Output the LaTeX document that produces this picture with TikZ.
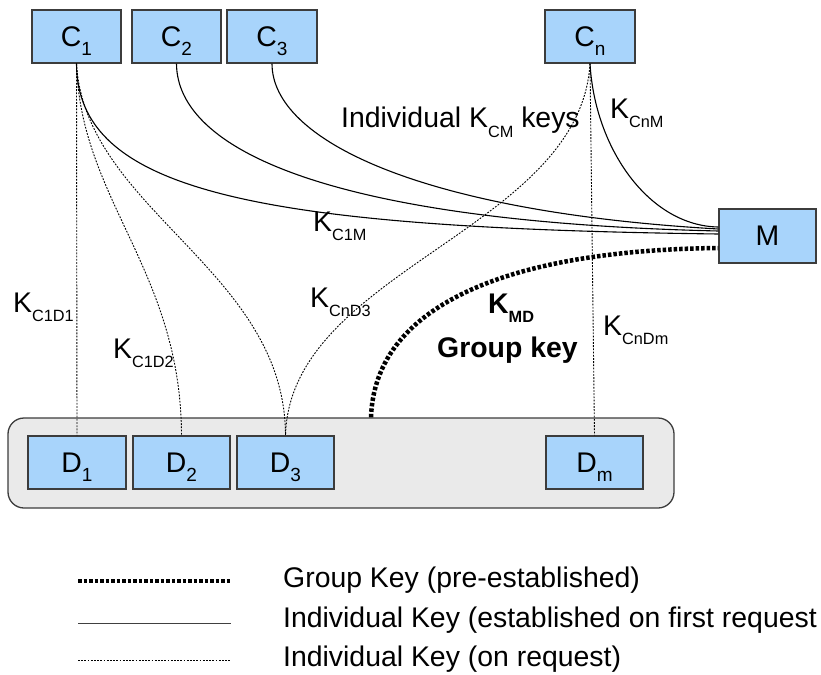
\documentclass[tikz,border=0pt]{standalone}
\usepackage{fontspec}
\setmainfont{Liberation Sans}
\newcommand\bsub[1]{\raisebox{-9pt}{\fontsize{19}{19}\selectfont #1}}
\newcommand\lsub[1]{\raisebox{-9.5pt}{\fontsize{16.3}{17}\selectfont #1}}
\definecolor{boxblue}{HTML}{A8D4FB}
\definecolor{boxline}{HTML}{3C3C3C}
\definecolor{groupfill}{HTML}{EAEAEA}
\begin{document}
\begin{tikzpicture}[x=1pt,y=-1pt,
  every node/.style={font=\fontsize{28.4}{32}\selectfont},
  party/.style={draw=boxline,line width=1.3pt,fill=boxblue,inner sep=0pt,
    minimum height=53pt,text height=19.8pt,text depth=0pt},
  lbl/.style={anchor=base west,inner sep=0pt},
  firstkey/.style={line width=1.1pt},
  reqkey/.style={line width=0.9pt,dash pattern=on 1.8pt off 1.4pt},
  groupkey/.style={line width=4.5pt,dash pattern=on 3.5pt off 2pt}]
\useasboundingbox (0,0) rectangle (821,674);

% device group
\node[draw=boxline,line width=1.3pt,fill=groupfill,rounded corners=16pt,
  minimum width=666pt,minimum height=90pt] (grp) at (341,463) {};

% clients
\node[party,minimum width=89pt] (C1) at (76.5,36.5) {C\bsub{1}};
\node[party,minimum width=89pt] (C2) at (176.5,36.5) {C\bsub{2}};
\node[party,minimum width=90pt] (C3) at (272,36.5) {C\bsub{3}};
\node[party,minimum width=90pt] (Cn) at (590,36.5) {C\bsub{n}};
% manager
\node[party,minimum width=97pt,minimum height=54pt] (M) at (767.5,236) {M};
% devices
\node[party,minimum width=98pt] (D1) at (77,462.5) {D\bsub{1}};
\node[party,minimum width=97pt] (D2) at (181.5,462.5) {D\bsub{2}};
\node[party,minimum width=97pt] (D3) at (285.5,462.5) {D\bsub{3}};
\node[party,minimum width=97pt] (Dm) at (594.5,462.5) {D\bsub{m}};

% client-manager keys
\draw[firstkey] (C1.south) .. controls (77,190) and (250,228) .. ([yshift=2pt]M.west);
\draw[firstkey] (C2.south) .. controls (177,150) and (330,222) .. ([yshift=5pt]M.west);
\draw[firstkey] (C3.south) .. controls (272,140) and (420,212) .. ([yshift=7pt]M.west);
\draw[firstkey] (Cn.south) .. controls (595,150) and (650,226) .. ([yshift=9pt]M.west);

% client-device keys
\draw[reqkey] (C1.south) -- (D1.north);
\draw[reqkey] (C1.south) .. controls (80,200) and (181,270) .. (D2.north);
\draw[reqkey] (C1.south) .. controls (85,210) and (285,270) .. (D3.north);
\draw[reqkey] (Cn.south) .. controls (580,230) and (290,270) .. (D3.north);
\draw[reqkey] (Cn.south) -- (Dm.north);

% group key
\draw[groupkey] ([xshift=30pt]grp.north) .. controls (375,300) and (520,250) .. ([yshift=-12pt]M.west);

% key labels
\node[lbl] (lcm) at (341,128) {Individual K\lsub{CM} keys};
\node[lbl] (lcnm) at (610,118) {K\lsub{CnM}};
\node[lbl] (lc1m) at (313,231) {K\lsub{C1M}};
\node[lbl] (lc1d1) at (13,312) {K\lsub{C1D1}};
\node[lbl] (lc1d2) at (113,358) {K\lsub{C1D2}};
\node[lbl] (lcnd3) at (310,307) {K\lsub{CnD3}};
\node[lbl] (lcndm) at (603,335) {K\lsub{CnDm}};
\node[lbl,font=\fontsize{28.4}{32}\selectfont\bfseries] (lmd) at (488,313) {K\lsub{\bfseries MD}};
\node[lbl,font=\fontsize{28.4}{32}\selectfont\bfseries] (lgk) at (437,357) {Group key};

% legend
\coordinate (g1) at (78,581);  \coordinate (g2) at (231,581);
\coordinate (s1) at (78,623);  \coordinate (s2) at (231,623);
\coordinate (r1) at (78,660);  \coordinate (r2) at (231,660);
\draw[groupkey] (g1) -- (g2);
\draw[line width=0.9pt,draw=black!75] (s1) -- (s2);
\draw[reqkey] (r1) -- (r2);
\node[lbl] (t1) at (283,587) {Group Key (pre-established)};
\node[lbl] (t2) at (283,627) {Individual Key (established on first request};
\node[lbl] (t3) at (283,666) {Individual Key (on request)};
\end{tikzpicture}
\end{document}
